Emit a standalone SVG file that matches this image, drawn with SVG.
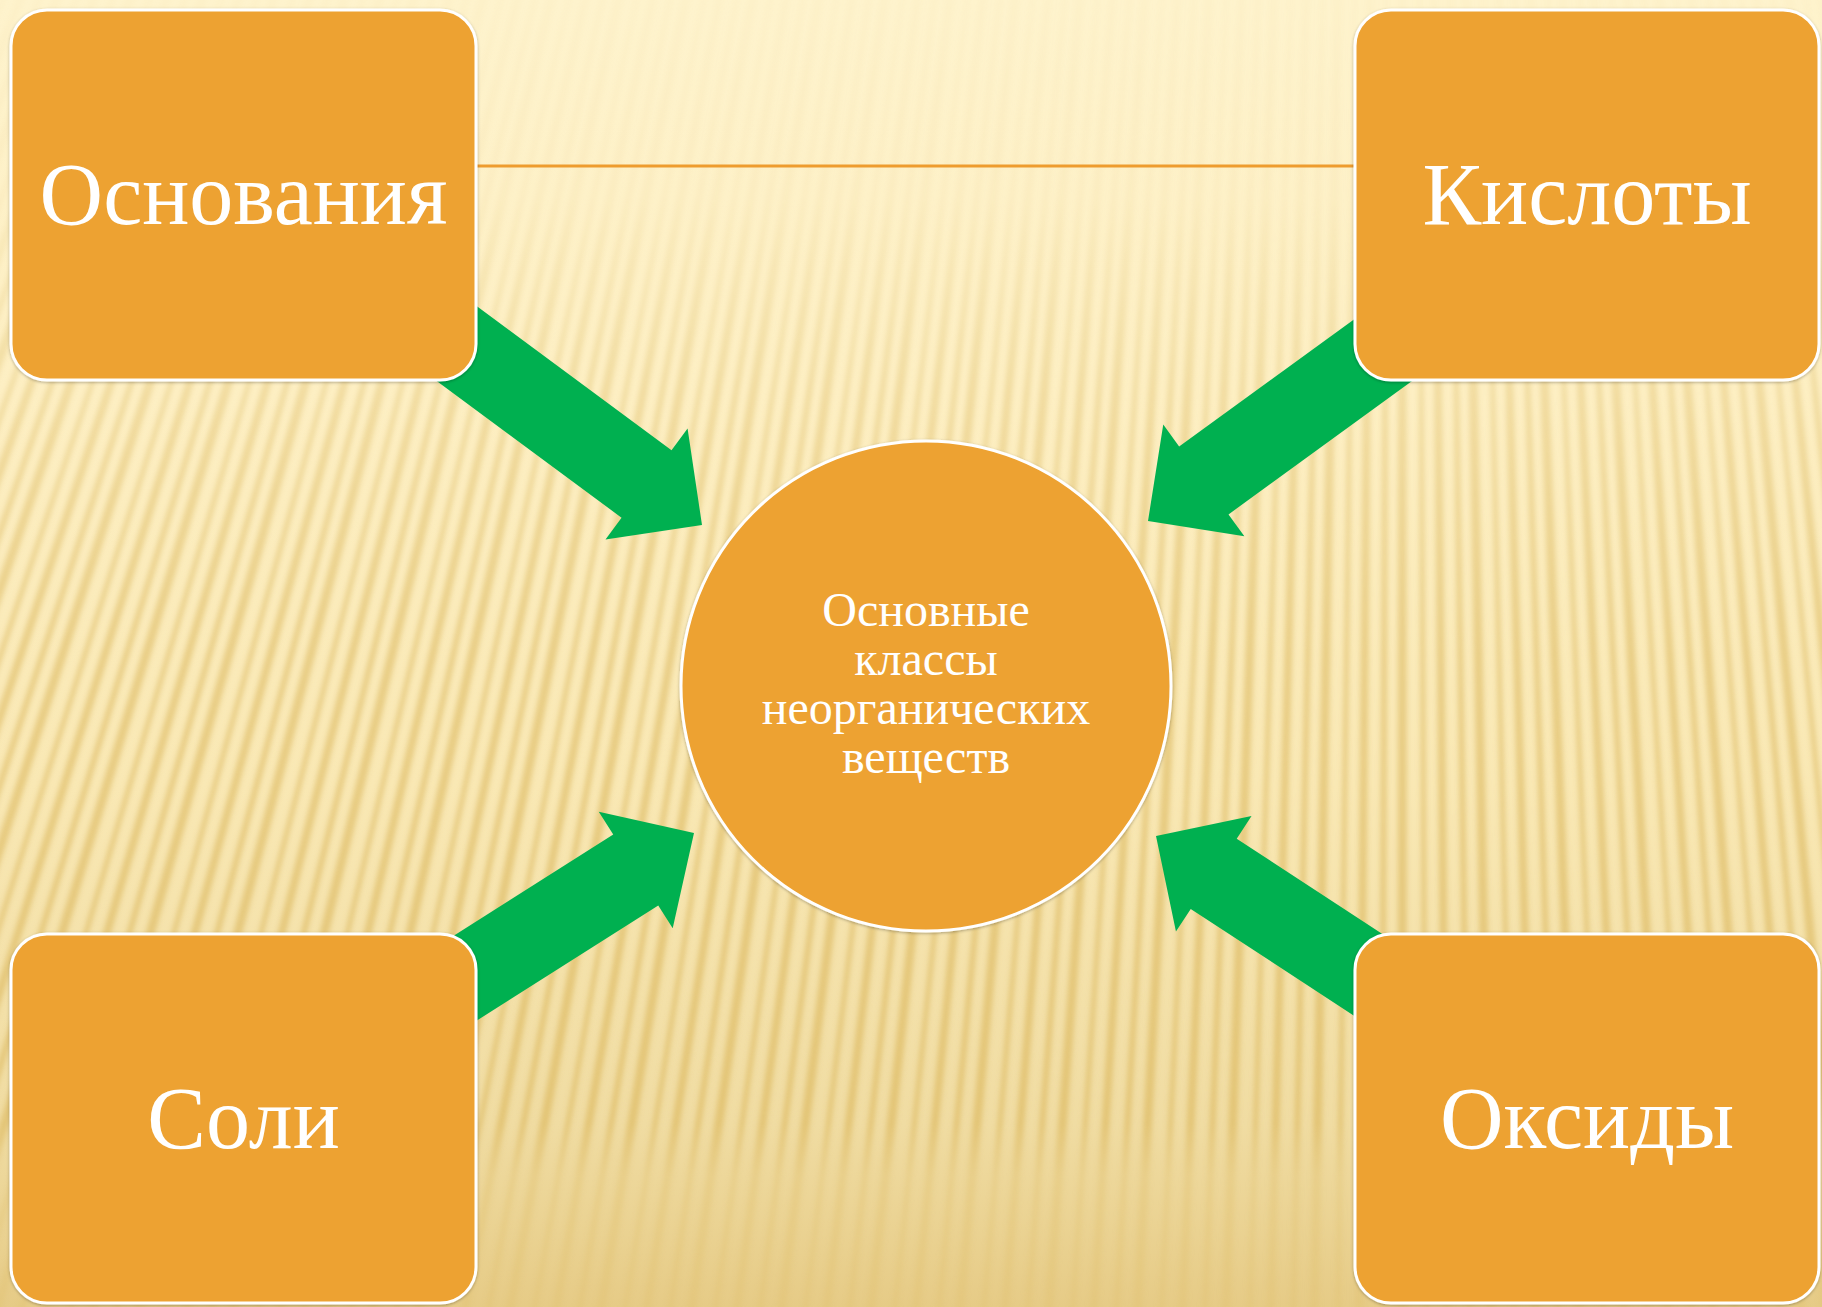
<svg xmlns="http://www.w3.org/2000/svg" xmlns:xlink="http://www.w3.org/1999/xlink" width="1822" height="1307" viewBox="0 0 1822 1307">
  <defs>
    <style>
      .box { fill:#EDA230; stroke:#FFFFFF; stroke-width:3; }
      .big { font-family:"Liberation Serif","Times New Roman",serif; font-size:88px; fill:#FFFFFF; text-anchor:middle; }
      .small { font-family:"Liberation Serif","Times New Roman",serif; font-size:48px; fill:#FFFFFF; text-anchor:middle; }
      .arrow { fill:#00B050; }
    </style>
    <linearGradient id="bg" x1="0" y1="0" x2="0" y2="1">
      <stop offset="0" stop-color="#FEF3CD"/>
      <stop offset="0.3" stop-color="#FDEFC3"/>
      <stop offset="0.6" stop-color="#F9E8B4"/>
      <stop offset="0.86" stop-color="#F0DCA2"/>
      <stop offset="1" stop-color="#E6CB86"/>
    </linearGradient>
    <linearGradient id="stripeFade" x1="0" y1="0" x2="0" y2="1">
      <stop offset="0" stop-color="#FFFFFF" stop-opacity="0.04"/>
      <stop offset="0.15" stop-color="#FFFFFF" stop-opacity="0.08"/>
      <stop offset="0.3" stop-color="#FFFFFF" stop-opacity="0.4"/>
      <stop offset="0.5" stop-color="#FFFFFF" stop-opacity="0.65"/>
      <stop offset="0.86" stop-color="#FFFFFF" stop-opacity="0.8"/>
      <stop offset="0.9" stop-color="#FFFFFF" stop-opacity="0.35"/>
      <stop offset="1" stop-color="#FFFFFF" stop-opacity="0.3"/>
    </linearGradient>
    <mask id="stripeMask" maskUnits="userSpaceOnUse" x="0" y="0" width="1822" height="1307">
      <rect x="0" y="0" width="1822" height="1307" fill="url(#stripeFade)"/>
    </mask>
    <filter id="soft" filterUnits="userSpaceOnUse" x="0" y="0" width="1822" height="1307">
      <feGaussianBlur stdDeviation="2.5"/>
    </filter>
    <filter id="shadow" x="-5%" y="-5%" width="110%" height="110%">
      <feDropShadow dx="0" dy="1" stdDeviation="1.5" flood-color="#000000" flood-opacity="0.3"/>
    </filter>
    <path id="arr" d="M0,0 L-69,-69 L-69,-42 L-420,-42 L-420,42 L-69,42 L-69,69 Z"/>
  </defs>

  <!-- background -->
  <rect x="0" y="0" width="1822" height="1307" fill="url(#bg)"/>
  <g mask="url(#stripeMask)">
    <g filter="url(#soft)">
      <circle cx="1400" cy="-3500" r="4250" fill="none" stroke="#E0BF6C" stroke-width="1900" stroke-dasharray="8 12 5 14 9 11 6 13"/>
    </g>
  </g>

  <!-- connectors -->
  <g id="connectors">
    <line x1="476" y1="166" x2="1355" y2="166" stroke="#EE9C2E" stroke-width="3"/>
    <use xlink:href="#arr" class="arrow" transform="translate(702,525) rotate(36.5)"/>
    <use xlink:href="#arr" class="arrow" transform="translate(1148,521) rotate(144)"/>
    <use xlink:href="#arr" class="arrow" transform="translate(694,833) rotate(-32.4)"/>
    <use xlink:href="#arr" class="arrow" transform="translate(1156,836) rotate(-146.8)"/>
  </g>

  <g id="node-osnovaniya">
    <rect class="box" x="11" y="10" width="465" height="370" rx="36" filter="url(#shadow)"/>
    <text class="big" x="243.5" y="224">Основания</text>
  </g>
  <g id="node-kisloty">
    <rect class="box" x="1355" y="10" width="464" height="370" rx="36" filter="url(#shadow)"/>
    <text class="big" x="1587" y="224">Кислоты</text>
  </g>
  <g id="node-soli">
    <rect class="box" x="11" y="934" width="465" height="369" rx="36" filter="url(#shadow)"/>
    <text class="big" x="243.5" y="1148">Соли</text>
  </g>
  <g id="node-oksidy">
    <rect class="box" x="1355" y="934" width="464" height="369" rx="36" filter="url(#shadow)"/>
    <text class="big" x="1587" y="1148">Оксиды</text>
  </g>
  <g id="node-center">
    <circle class="box" cx="926" cy="686" r="245" filter="url(#shadow)"/>
    <text class="small" x="926" y="626">Основные</text>
    <text class="small" x="926" y="675">классы</text>
    <text class="small" x="926" y="724">неорганических</text>
    <text class="small" x="926" y="773">веществ</text>
  </g>
</svg>
